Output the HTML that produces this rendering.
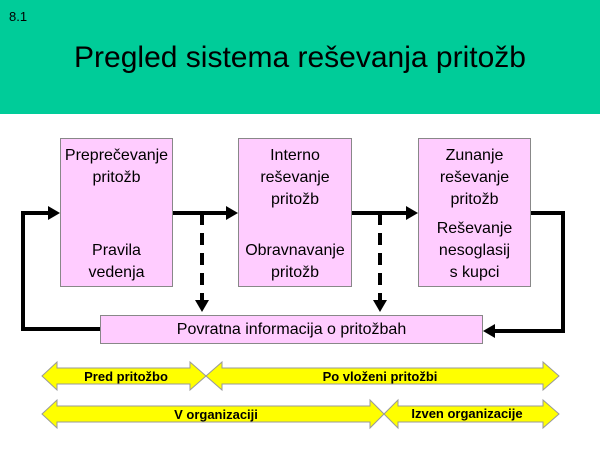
<!DOCTYPE html>
<html><head><meta charset="utf-8"><style>
body{margin:0;width:600px;height:450px;background:#fff;position:relative;overflow:hidden;font-family:"Liberation Sans",Arial,sans-serif}
.hdr{position:absolute;left:0;top:0;width:600px;height:114px;background:#00cc99}
.t{position:absolute;white-space:nowrap}
.box{position:absolute;background:#ffccff;border:1px solid #888;box-sizing:border-box}
.bt{position:absolute;width:100%;text-align:center;font-size:16px;line-height:22px;color:#000}
</style></head><body>
<div class="hdr"></div>
<div class="t" style="left:9px;top:9px;font-size:13px">8.1</div>
<div class="t" style="left:0;width:600px;text-align:center;top:41px;font-size:30px">Pregled sistema reševanja pritožb</div>

<svg width="600" height="450" style="position:absolute;left:0;top:0">
<g stroke="#000" stroke-width="4" fill="none">
<polyline points="100,329 23,329 23,213 50,213"/>
<line x1="172" y1="213" x2="228" y2="213"/>
<line x1="351" y1="213" x2="408" y2="213"/>
<polyline points="531,213 563,213 563,331 493,331"/>
<line x1="202" y1="213" x2="202" y2="300" stroke-dasharray="12,8"/>
<line x1="380" y1="213" x2="380" y2="300" stroke-dasharray="12,8"/>
</g>
<g fill="#000">
<polygon points="60,213 48,206 48,220"/>
<polygon points="238,213 226,206 226,220"/>
<polygon points="418,213 406,206 406,220"/>
<polygon points="483,331 495,324 495,338"/>
<polygon points="202,312 195,300 209,300"/>
<polygon points="380,312 373,300 387,300"/>
</g>
<g fill="#ffff00" stroke="#999" stroke-width="1">
<polygon points="42,376 57,362 57,368 190,368 190,362 206,376 190,390 190,384 57,384 57,390"/>
<polygon points="206,376 222,362 222,368 543,368 543,362 559,376 543,390 543,384 222,384 222,390"/>
<polygon points="42,414 57,400 57,406 370,406 370,400 384,414 370,428 370,422 57,422 57,428"/>
<polygon points="384,414 398,400 398,406 543,406 543,400 559,414 543,428 543,422 398,422 398,428"/>
</g>
<g font-family="Liberation Sans,Arial,sans-serif" font-size="13" font-weight="bold" text-anchor="middle">
<text x="126" y="381">Pred pritožbo</text>
<text x="380" y="381">Po vloženi pritožbi</text>
<text x="216" y="419">V organizaciji</text>
<text x="467" y="418">Izven organizacije</text>
</g>
</svg>

<div class="box" style="left:60px;top:138px;width:113px;height:149px">
<div class="bt" style="top:6px">Preprečevanje<br>pritožb</div>
<div class="bt" style="top:101px">Pravila<br>vedenja</div></div>
<div class="box" style="left:238px;top:138px;width:114px;height:149px">
<div class="bt" style="top:6px">Interno<br>reševanje<br>pritožb</div>
<div class="bt" style="top:101px">Obravnavanje<br>pritožb</div></div>
<div class="box" style="left:418px;top:138px;width:113px;height:149px">
<div class="bt" style="top:6px">Zunanje<br>reševanje<br>pritožb</div>
<div class="bt" style="top:79px">Reševanje<br>nesoglasij<br>s kupci</div></div>
<div class="box" style="left:100px;top:315px;width:383px;height:29px">
<div class="bt" style="top:3px">Povratna informacija o pritožbah</div></div>
</body></html>
